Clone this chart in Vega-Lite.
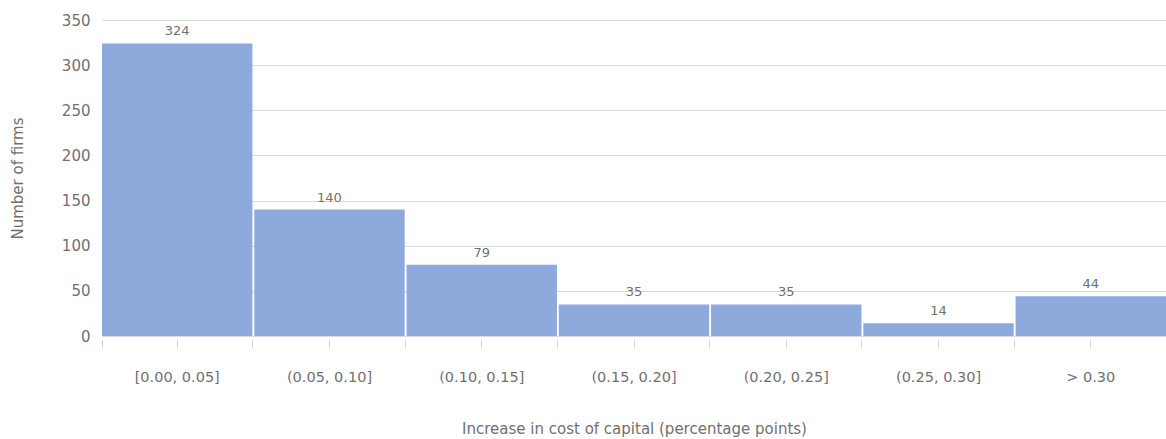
{
  "$schema": "https://vega.github.io/schema/vega-lite/v6.json",
  "autosize": {"type": "none"},
  "padding": {"left": 102, "top": 20, "right": 0, "bottom": 103},
  "width": 1064,
  "height": 316,
  "config": {
    "view": {"stroke": null},
    "font": "DejaVu Sans",
    "axis": {"labelColor": "#707070", "titleColor": "#707070", "titleFontWeight": "normal", "labelFont": "DejaVu Sans", "titleFont": "DejaVu Sans"}
  },
  "data": {
    "values": [
      {"bin": "[0.00, 0.05]", "firms": 324},
      {"bin": "(0.05, 0.10]", "firms": 140},
      {"bin": "(0.10, 0.15]", "firms": 79},
      {"bin": "(0.15, 0.20]", "firms": 35},
      {"bin": "(0.20, 0.25]", "firms": 35},
      {"bin": "(0.25, 0.30]", "firms": 14},
      {"bin": "> 0.30", "firms": 44}
    ]
  },
  "encoding": {
    "y": {
      "field": "firms", "type": "quantitative",
      "scale": {"domain": [0, 350]},
      "axis": {
        "title": "Number of firms", "values": [0, 50, 100, 150, 200, 250, 300, 350],
        "labelFontSize": 15, "labelPadding": 12, "domain": false, "ticks": false,
        "gridColor": "#d9d9d9", "titleFontSize": 15,
        "titleX": -85, "titleY": 158, "titleBaseline": "middle", "titleAlign": "center", "titleAngle": -90
      }
    }
  },
  "layer": [
    {
      "mark": {"type": "bar", "color": "#8eaadc"},
      "encoding": {
        "x": {
          "field": "bin", "type": "nominal", "sort": null,
          "scale": {"paddingInner": 0.012, "paddingOuter": 0},
          "axis": {
            "title": "Increase in cost of capital (percentage points)",
            "labelAngle": 0, "labelFontSize": 14.5, "labelPadding": 23,
            "domain": false, "ticks": true, "tickColor": "#cfcfcf", "tickSize": 7, "offset": 4,
            "titleFontSize": 15, "titleY": 88, "titleBaseline": "middle"
          }
        }
      }
    },
    {
      "mark": {"type": "text", "dy": -12, "fontSize": 13, "color": "#707070", "font": "DejaVu Sans"},
      "encoding": {
        "x": {
          "field": "bin", "type": "nominal", "sort": null,
          "scale": {"paddingInner": 0.012, "paddingOuter": 0},
          "axis": {
            "orient": "bottom", "title": null, "labels": false, "domain": false,
            "ticks": true, "tickBand": "extent", "tickColor": "#cfcfcf", "tickSize": 7, "offset": 4
          }
        },
        "text": {"field": "firms", "type": "quantitative"}
      }
    }
  ],
  "resolve": {"axis": {"x": "independent"}}
}
